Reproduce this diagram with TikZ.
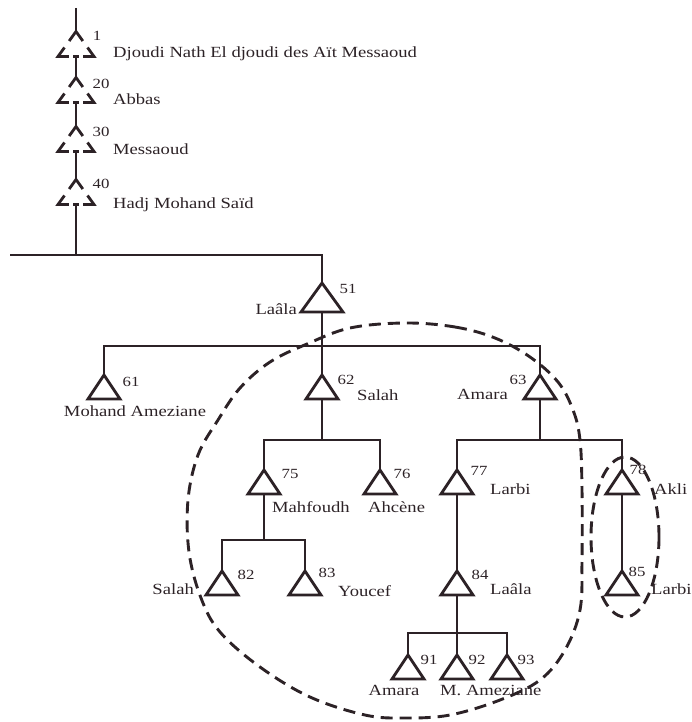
\documentclass[tikz,border=0pt]{standalone}
\usepackage{fontspec}
\setmainfont[FakeStretch=1.2]{Liberation Serif}
\usetikzlibrary{calc}
\definecolor{ink}{RGB}{44,34,38}
\begin{document}
\begin{tikzpicture}[x=1pt,y=-1pt,
  tri/.style={minimum width=32pt,minimum height=24pt,inner sep=0pt,outer sep=0pt},
  bigtri/.style={minimum width=42pt,minimum height=29pt,inner sep=0pt,outer sep=0pt},
  dtri/.style={minimum width=36pt,minimum height=25pt,inner sep=0pt,outer sep=0pt},
  triline/.style={draw=ink,line width=2.8pt,line join=miter},
  conn/.style={draw=ink,line width=1.5pt},
  dashline/.style={draw=ink,line width=2.9pt,dash pattern=on 12pt off 7pt},
  lbl/.style={text=ink,inner sep=0pt,font=\fontsize{15.5}{18}\selectfont},
  num/.style={text=ink,inner sep=0pt,font=\fontsize{14}{16}\selectfont},
]
\useasboundingbox (0,0) rectangle (691,722);
% ancestors (dashed triangles)
\node[dtri] (d1) at (76,44) {};
\node[dtri] (d20) at (76,90) {};
\node[dtri] (d30) at (76,139) {};
\node[dtri] (d40) at (76,192) {};
\coordinate (top) at (76,8);
\coordinate (lft) at (10,255);
% triangles
\node[bigtri] (t51) at (322,297.5) {};
\node[tri] (t61) at (104,387) {};
\node[tri] (t62) at (322,387) {};
\node[tri] (t63) at (540,387) {};
\node[tri] (t75) at (264,482) {};
\node[tri] (t76) at (380,482) {};
\node[tri] (t77) at (457,482) {};
\node[tri] (t78) at (622,482) {};
\node[tri] (t82) at (222,583) {};
\node[tri] (t83) at (305,583) {};
\node[tri] (t84) at (457,583) {};
\node[tri] (t85) at (622,583) {};
\node[tri] (t91) at (408,667) {};
\node[tri] (t92) at (457,667) {};
\node[tri] (t93) at (507,667) {};
% junction coordinates
\coordinate (h5) at (322,255);
\coordinate (h6) at (322,346);
\coordinate (h7a) at (322,440);
\coordinate (h7b) at (540,440);
\coordinate (h8) at (264,540);
\coordinate (h9) at (457,633);
% draw solid triangles
\foreach \n in {51,61,62,63,75,76,77,78,82,83,84,85,91,92,93}
  \draw[triline] (t\n.south west) -- (t\n.north) -- (t\n.south east) -- cycle;
% dashed triangles
\foreach \n in {1,20,30,40}{
  \draw[triline] ($(d\n.north)!0.38!(d\n.south west)$) -- (d\n.north) -- ($(d\n.north)!0.38!(d\n.south east)$);
  \draw[triline] ($(d\n.south west)!0.36!(d\n.north)$) -- (d\n.south west) -- ($(d\n.south west)!0.3!(d\n.south east)$);
  \draw[triline] ($(d\n.south east)!0.36!(d\n.north)$) -- (d\n.south east) -- ($(d\n.south east)!0.3!(d\n.south west)$);
  \draw[triline] ($(d\n.south west)!0.42!(d\n.south east)$) -- ($(d\n.south west)!0.58!(d\n.south east)$);
}
% connectors
\draw[conn] (top) -- (d1.north);
\draw[conn] (d1.south) -- (d20.north);
\draw[conn] (d20.south) -- (d30.north);
\draw[conn] (d30.south) -- (d40.north);
\draw[conn] (d40.south) -- (d40.south |- lft);
\draw[conn] (lft) -- (h5) -- (t51.north);
\draw[conn] (t51.south) -- (t62.north);
\draw[conn] (t61.north) |- (h6) -| (t63.north);
\draw[conn] (t62.south) -- (h7a);
\draw[conn] (t75.north) |- (h7a) -| (t76.north);
\draw[conn] (t63.south) -- (h7b);
\draw[conn] (t77.north) |- (h7b) -| (t78.north);
\draw[conn] (t75.south) -- (h8);
\draw[conn] (t82.north) |- (h8) -| (t83.north);
\draw[conn] (t77.south) -- (t84.north);
\draw[conn] (t78.south) -- (t85.north);
\draw[conn] (t84.south) -- (t92.north);
\draw[conn] (t91.north) |- (h9) -| (t93.north);
% labels
\node[num] (n1) at (97,36) {1};
\node[lbl,anchor=base west] (l1) at (113,58) {Djoudi Nath El djoudi des Aït Messaoud};
\node[num] (n20) at (101,84) {20};
\node[lbl,anchor=base west] (l20) at (113,105) {Abbas};
\node[num] (n30) at (101,132) {30};
\node[lbl,anchor=base west] (l30) at (113,155) {Messaoud};
\node[num] (n40) at (101,184) {40};
\node[lbl,anchor=base west] (l40) at (113,208) {Hadj Mohand Saïd};
\node[num] (n51) at (348,289) {51};
\node[lbl,anchor=base east] (l51) at (297,314) {Laâla};
\node[num] (n61) at (131,382) {61};
\node[lbl,anchor=base] (l61) at (135,416) {Mohand Ameziane};
\node[num] (n62) at (346,380) {62};
\node[lbl,anchor=base west] (l62) at (357,400) {Salah};
\node[num] (n63) at (518,380) {63};
\node[lbl,anchor=base east] (l63) at (508,399) {Amara};
\node[num] (n75) at (290,474) {75};
\node[lbl,anchor=base west] (l75) at (272,512) {Mahfoudh};
\node[num] (n76) at (402,474) {76};
\node[lbl,anchor=base west] (l76) at (368,512) {Ahcène};
\node[num] (n77) at (479,471) {77};
\node[lbl,anchor=base west] (l77) at (490,494) {Larbi};
\node[num] (n78) at (638,470) {78};
\node[lbl,anchor=base west] (l78) at (654,494) {Akli};
\node[num] (n82) at (246,575) {82};
\node[lbl,anchor=base east] (l82) at (194,594) {Salah};
\node[num] (n83) at (327,573) {83};
\node[lbl,anchor=base west] (l83) at (338,596) {Youcef};
\node[num] (n84) at (480,575) {84};
\node[lbl,anchor=base west] (l84) at (490,594) {Laâla};
\node[num] (n85) at (637,572) {85};
\node[lbl,anchor=base west] (l85) at (651,594) {Larbi};
\node[num] (n91) at (429,660) {91};
\node[num] (n92) at (477,660) {92};
\node[num] (n93) at (526,660) {93};
\node[lbl,anchor=base] (l91) at (394,695) {Amara};
\node[lbl,anchor=base west] (l92) at (440,695) {M. Ameziane};
% dashed enclosures
\draw[dashline] plot[smooth cycle,tension=0.6] coordinates {
 (405,323) (455,327) (495,338) (530,357) (558,382) (573,410) (580,440)
 (582,490) (582,560) (580,610) (565,650) (540,680) (500,700) (450,715)
 (405,718) (365,715) (310,697) (260,667) (220,632) (201,598) (189,552)
 (188,500) (198,455) (218,420) (240,388) (270,362) (307,344) (350,328)};
\draw[dashline] (625,537) ellipse [x radius=34, y radius=80];
\end{tikzpicture}
\end{document}
